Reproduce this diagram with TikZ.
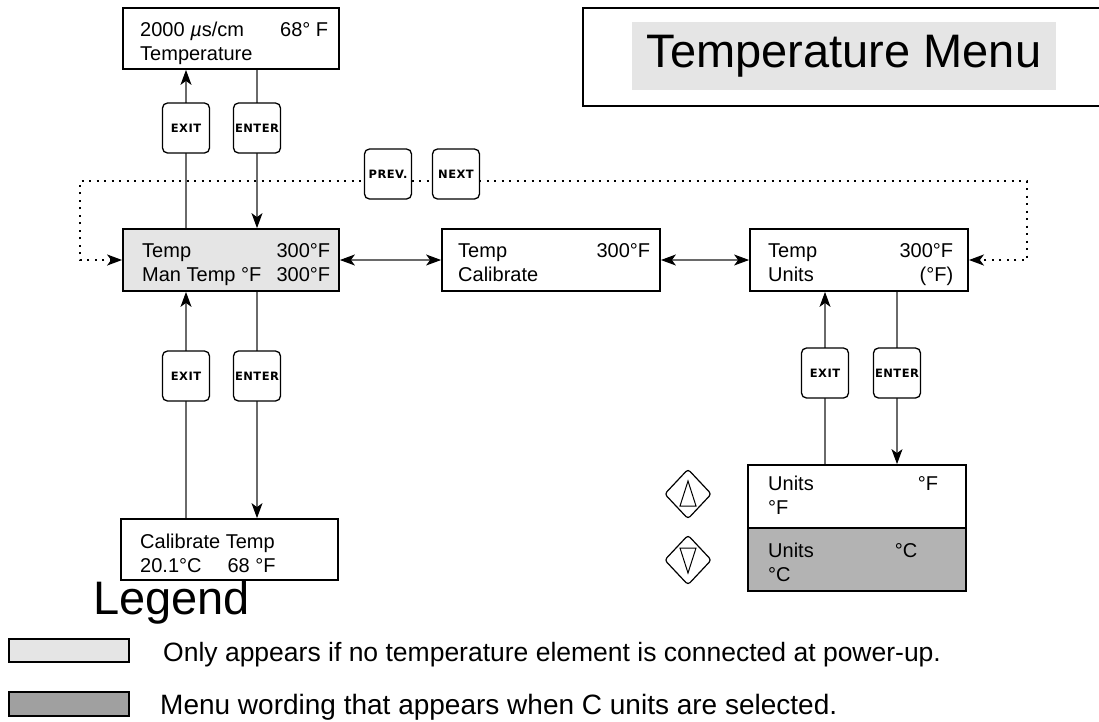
\documentclass[tikz,border=0pt]{standalone}
\usepackage{fontspec}
\setmainfont{Liberation Sans}
\newfontfamily\btnfont{DejaVu Sans}[LetterSpace=4]
\usetikzlibrary{arrows.meta,shapes.geometric,backgrounds}
\definecolor{lightbox}{HTML}{E5E5E5}
\definecolor{darkbox}{HTML}{B3B3B3}
\definecolor{legdark}{HTML}{A0A0A0}
\definecolor{connc}{HTML}{6A6A6A}
\newcommand{\lrtab}[5]{\begin{tabular*}{#1}[t]{@{}l@{\extracolsep{\fill}}r@{}}#2&#3\\#4&#5\end{tabular*}}
\begin{document}
\begin{tikzpicture}[x=1pt,y=-1pt,
  dispbox/.style={draw, line width=1.8pt, inner sep=0pt},
  txt/.style={inner sep=0pt, font=\fontsize{20}{24}\selectfont},
  btn/.style={draw, line width=1.3pt, rounded corners=5pt, fill=white, minimum width=47pt, minimum height=50pt, inner sep=0pt, font=\btnfont\bfseries\fontsize{11.5}{13}\selectfont},
  cline/.style={draw=connc, line width=1.1pt},
  tipa/.style={-{Stealth[length=15pt,width=11pt,inset=4pt,color=black]}},
  tipb/.style={{Stealth[length=15pt,width=11pt,inset=4pt,color=black]}-{Stealth[length=15pt,width=11pt,inset=4pt,color=black]}},
  dotline/.style={line width=2pt, dash pattern=on 2pt off 5.5pt},
  keyd/.style={diamond, draw, line width=1.2pt, rounded corners=3pt, minimum width=47pt, minimum height=50pt, inner sep=0pt}
]
\useasboundingbox (0,0) rectangle (1099,721);

% title
\draw[line width=1.3pt] (1099,8) -- (583,8) -- (583,106) -- (1099,106);
\node[fill=lightbox, minimum width=424pt, minimum height=68pt, inner sep=0pt, font=\fontsize{47}{50}\selectfont] (title) at (844,56) {Temperature Menu};

% display boxes
\node[dispbox, minimum width=216pt, minimum height=61pt] (top) at (231,38.5) {};
\node[txt, anchor=base west] (topt) at (140,36) {\lrtab{188pt}{2000 {\itshape µ}s/cm}{68° F}{Temperature}{}};

\node[dispbox, fill=lightbox, minimum width=216pt, minimum height=62pt] (man) at (231,260) {};
\node[txt, anchor=base west] (mant) at (142,257) {\lrtab{188pt}{Temp}{300°F}{Man Temp °F}{300°F}};

\node[dispbox, minimum width=218pt, minimum height=62pt] (cal) at (551,260) {};
\node[txt, anchor=base west] (calt) at (458,257) {\lrtab{192pt}{Temp}{300°F}{Calibrate}{}};

\node[dispbox, minimum width=218pt, minimum height=62pt] (units) at (859,260) {};
\node[txt, anchor=base west] (unitst) at (768,257) {\lrtab{185pt}{Temp}{300°F}{Units}{(°F)}};

\node[dispbox, minimum width=217pt, minimum height=61pt] (ctemp) at (229.5,549.5) {};
\node[txt, anchor=base west] (ctempt) at (140,548) {\lrtab{170pt}{Calibrate Temp}{}{20.1°C\hspace{26pt}68 °F}{}};

\node[dispbox, minimum width=218pt, minimum height=63pt] (unitsf) at (857,496.5) {};
\node[txt, anchor=base west] (unitsft) at (768,490) {\lrtab{170pt}{Units}{°F}{°F}{}};
\node[dispbox, fill=darkbox, minimum width=218pt, minimum height=63pt] (unitsc) at (857,559.5) {};
\node[txt, anchor=base west] (unitsct) at (768,557) {\lrtab{149pt}{Units}{°C}{°C}{}};

% buttons
\node[btn] (exit1) at (186,128) {EXIT};
\node[btn] (enter1) at (257,128) {ENTER};
\node[btn] (exit2) at (186,376) {EXIT};
\node[btn] (enter2) at (257,376) {ENTER};
\node[btn] (exit3) at (825,373) {EXIT};
\node[btn] (enter3) at (897,373) {ENTER};
\node[btn] (prev) at (388,174) {PREV.};
\node[btn] (next) at (456,174) {NEXT};

% arrow keys
\node[keyd] (kup) at (688,494) {};
\draw[line width=1pt] ([shift={(0,-13)}]kup.center) -- ([shift={(-8,12)}]kup.center) -- ([shift={(8,12)}]kup.center) -- cycle;
\node[keyd] (kdown) at (688,560) {};
\draw[line width=1pt] ([shift={(0,13)}]kdown.center) -- ([shift={(-8,-12)}]kdown.center) -- ([shift={(8,-12)}]kdown.center) -- cycle;

% legend
\node[anchor=base west, inner sep=0pt, font=\fontsize{47}{50}\selectfont] (legend) at (93,614) {Legend};
\node[draw, line width=1.2pt, fill=lightbox, minimum width=120pt, minimum height=23pt, inner sep=0pt] (leg1) at (69,650.5) {};
\node[draw, line width=1.2pt, fill=legdark, minimum width=120pt, minimum height=24pt, inner sep=0pt] (leg2) at (69,704) {};
\node[anchor=base west, inner sep=0pt, font=\fontsize{26.5}{28}\selectfont] (leg1t) at (163,661) {Only appears if no temperature element is connected at power-up.};
\node[anchor=base west, inner sep=0pt, font=\fontsize{28}{30}\selectfont] (leg2t) at (160,714) {Menu wording that appears when C units are selected.};

\coordinate (dl) at (80,181);
\coordinate (dr) at (1027,181);

\begin{scope}[on background layer]
\draw[cline,tipa] (exit1 |- man.north) -- (exit1 |- top.south);
\draw[cline,tipa] (enter1 |- top.south) -- (enter1 |- man.north);
\draw[cline,tipa] (exit2 |- ctemp.north) -- (exit2 |- man.south);
\draw[cline,tipa] (enter2 |- man.south) -- (enter2 |- ctemp.north);
\draw[cline,tipa] (exit3 |- unitsf.north) -- (exit3 |- units.south);
\draw[cline,tipa] (enter3 |- units.south) -- (enter3 |- unitsf.north);
\draw[cline,tipb] (man.east) -- (cal.west);
\draw[cline,tipb] (cal.east) -- (units.west);
\draw[dotline,tipb] (man.west) -- (dl |- man.west) -- (dl) -- (dr) -- (dr |- units.east) -- (units.east);
\end{scope}
\end{tikzpicture}
\end{document}
